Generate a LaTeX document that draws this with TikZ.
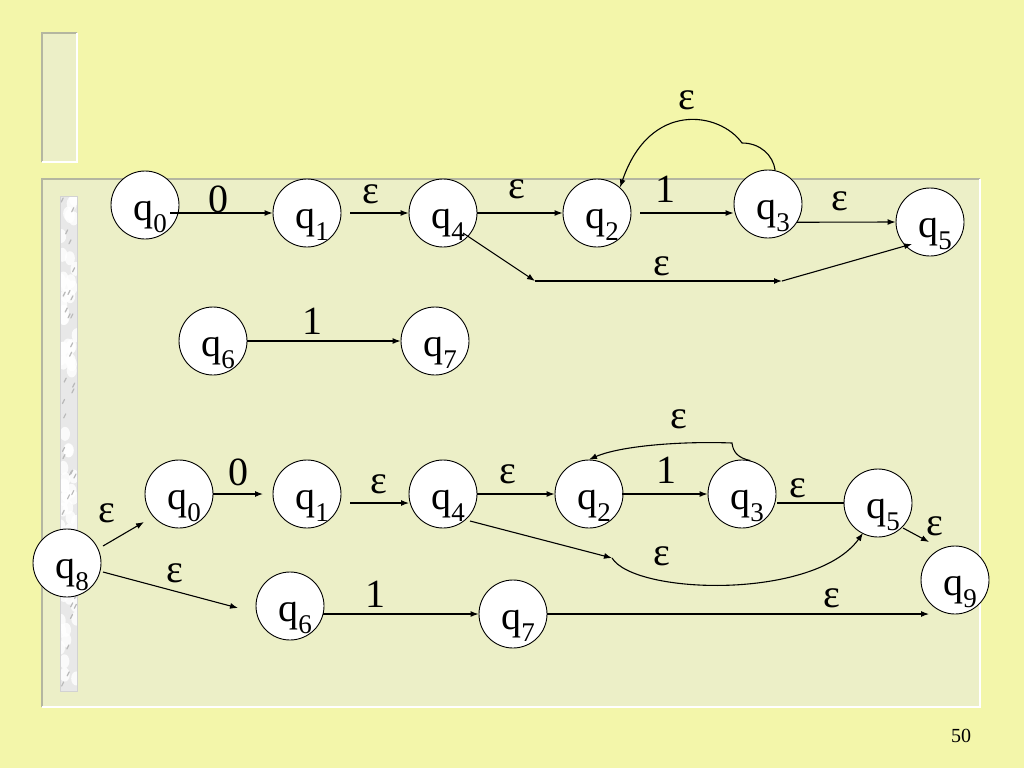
\documentclass[tikz,border=0pt]{standalone}
\usepackage{fontspec}
\setmainfont{Liberation Serif}
\usetikzlibrary{arrows.meta,calc}
\definecolor{bgY}{RGB}{243,246,170}
\definecolor{pnl}{RGB}{236,239,199}
\definecolor{edgeG}{RGB}{180,182,160}
\newcommand\qq[1]{\raisebox{-15pt}[0pt][0pt]{\hspace{10pt}q\raisebox{-12pt}{\fontsize{27}{27}\selectfont #1}}}
\begin{document}
\begin{tikzpicture}[x=1pt,y=-1pt,
  st/.style={circle, draw, fill=white, minimum size=68pt, inner sep=0pt, line width=0.9pt, font=\fontsize{40}{40}\selectfont},
  arr/.style={-{Latex[length=8pt,width=6pt]}, line width=1.1pt},
  plain/.style={line width=1.1pt},
  lab/.style={anchor=base, inner sep=0pt, font=\fontsize{40}{40}\selectfont}]
\useasboundingbox (0,0) rectangle (1024,768);
\fill[bgY] (0,0) rectangle (1024,768);
% small panel
\fill[pnl] (42,33) rectangle (77,162);
\draw[edgeG, line width=1.5pt] (42,162) -- (42,33) -- (77,33);
\draw[white, line width=1.5pt] (77,33) -- (77,162) -- (42,162);
% main panel
\fill[pnl] (42,179) rectangle (980,707);
\draw[edgeG, line width=1.5pt] (42,707) -- (42,179) -- (980,179);
\draw[white, line width=1.5pt] (980,179) -- (980,707) -- (42,707);
% marble strip
\fill[gray!18] (60,196) rectangle (77,691);
\begin{scope}
\clip (60,196) rectangle (77,691);
\pgfmathsetseed{11}
\foreach \i in {1,...,70} {
  \pgfmathsetmacro\yy{196+rnd*495}
  \pgfmathsetmacro\xx{60+rnd*17}
  \fill[white, opacity=0.8] (\xx,\yy) ellipse (5pt and 7pt);
}
\foreach \i in {1,...,40} {
  \pgfmathsetmacro\yy{196+rnd*495}
  \pgfmathsetmacro\xx{61+rnd*14}
  \draw[gray!55, line width=1.2pt, line cap=round] (\xx,\yy) -- ++(2,-4);
}
\end{scope}
\draw[gray!35, line width=0.8pt] (60,196) rectangle (77,691);

% ---- top automata ----
\node[st] (a0) at (145,205) {\qq{0}};
\node[st] (a1) at (307,213) {\qq{1}};
\node[st] (a4) at (443,213) {\qq{4}};
\node[st] (a2) at (597,213) {\qq{2}};
\node[st] (a3) at (768,204) {\qq{3}};
\node[st] (a5) at (930,222) {\qq{5}};
\node[st] (a6) at (213,341) {\qq{6}};
\node[st] (a7) at (435,341) {\qq{7}};

\draw[arr] ($(a0)+(25,8)$) -- (a1.west);
\draw[arr] ($(a1)+(43,0)$) -- (a4.west);
\draw[arr] (a4.east) -- (a2.west);
\draw[arr] ($(a2)+(43,0)$) -- (a3.west |- a2.center);
\draw[arr] (a3.-32) -- (a5.west);
\draw[arr] (a3.78) .. controls (773,155) and (760,143) .. (742,143)
  .. controls (720,112) and (650,100) .. (a2.48);
\coordinate (b1) at (535,281);
\coordinate (b2) at (782,281);
\draw[arr] ($(a4)+(20,20)$) -- (b1);
\draw[arr] (b1) -- (b2);
\draw[arr] (b2) -- ($(a5)+(-18,22)$);
\draw[arr] (a6.east) -- (a7.west);

\node[lab] (t1) at (218,212) {0};
\node[lab] (t2) at (371,203) {ε};
\node[lab] (t3) at (517,198) {ε};
\node[lab] (t4) at (665,202) {1};
\node[lab] (t5) at (840,210) {ε};
\node[lab] (t6) at (687,109) {ε};
\node[lab] (t7) at (662,275) {ε};
\node[lab] (t8) at (312,334) {1};

% ---- bottom automaton ----
\node[st] (c8) at (67,563) {\qq{8}};
\node[st] (c0) at (179,494) {\qq{0}};
\node[st] (c1) at (307,494) {\qq{1}};
\node[st] (c4) at (443,494) {\qq{4}};
\node[st] (c2) at (589,494) {\qq{2}};
\node[st] (c3) at (742,494) {\qq{3}};
\node[st] (c5) at (878,503) {\qq{5}};
\node[st] (c9) at (955,580) {\qq{9}};
\node[st] (c6) at (290,606) {\qq{6}};
\node[st] (c7) at (513,614) {\qq{7}};

\draw[arr] ($(c8)+(36,-17)$) -- ($(c0)+(-35,28)$);
\draw[arr] ($(c8)+(36,9)$) -- ($(c6)+(-52,2)$);
\draw[arr] (c0.east) -- ($(c1)+(-44,0)$);
\draw[arr] ($(c1)+(43,9)$) -- ($(c4)+(-34,9)$);
\draw[arr] (c4.east) -- (c2.west);
\draw[arr] ($(c2)+(33,0)$) -- (c3.west);
\draw[plain] ($(c3)+(35,9)$) -- (c5.west);
\draw[arr] (c3.76) .. controls (738,458) and (733,452) .. (732,443)
  .. controls (680,441) and (620,446) .. (c2.north);
\coordinate (d1) at (612,558);
\draw[arr] ($(c4)+(27,27)$) -- (d1);
\draw[arr] (d1) .. controls (635,595) and (815,600) .. ($(c5)+(-15,30)$);
\draw[arr] ($(c5)+(25,25)$) -- ($(c9)+(-26,-38)$);
\draw[arr] (c7.east) -- ($(c9)+(-26,34)$);
\draw[arr] ($(c6)+(33,8)$) -- (c7.west);

\node[lab] (u1) at (107,522) {ε};
\node[lab] (u2) at (175,582) {ε};
\node[lab] (u3) at (238,485) {0};
\node[lab] (u4) at (379,493) {ε};
\node[lab] (u5) at (375,607) {1};
\node[lab] (u6) at (508,483) {ε};
\node[lab] (u7) at (666,483) {1};
\node[lab] (u8) at (798,497) {ε};
\node[lab] (u9) at (679,428) {ε};
\node[lab] (u10) at (662,565) {ε};
\node[lab] (u11) at (935,535) {ε};
\node[lab] (u12) at (832,607) {ε};

\node[anchor=base, inner sep=0pt, font=\fontsize{20}{20}\selectfont] (pg) at (961,742) {50};
\end{tikzpicture}
\end{document}
